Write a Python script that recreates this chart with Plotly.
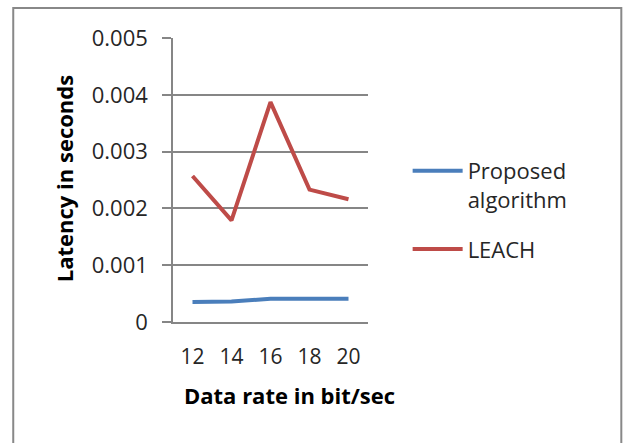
import plotly.graph_objects as go

categories = ["12", "14", "16", "18", "20"]
proposed = [0.00035, 0.00036, 0.00041, 0.00041, 0.00041]
leach = [0.00257, 0.00179, 0.00387, 0.00233, 0.00216]
ytick_vals = [0, 0.001, 0.002, 0.003, 0.004, 0.005]
ytick_text = ["0", "0.001", "0.002", "0.003", "0.004", "0.005"]

FONT = "Open Sans"
GRID = "#868686"

fig = go.Figure()
fig.add_trace(go.Scatter(x=categories, y=proposed, mode="lines", name="Proposed<br>algorithm",
                         line=dict(color="#4A7EBB", width=4), legendgroup="a"))
fig.add_trace(go.Scatter(x=categories, y=leach, mode="lines", name="LEACH",
                         line=dict(color="#BE4B48", width=4), legendgroup="b"))

PW = 195.3
PH = 284.0

fig.update_layout(
    width=625, height=443,
    margin=dict(l=173, r=257, t=38, b=121),
    paper_bgcolor="white", plot_bgcolor="white",
    font=dict(family=FONT, size=20, color="#262626"),
    showlegend=True,
    legend=dict(x=(408 - 173) / PW, y=(322 - 150) / PH, xanchor="left", yanchor="top", valign="top",
                itemwidth=50, tracegroupgap=18, font=dict(size=22, family=FONT, color="#262626"),
                bgcolor="rgba(0,0,0,0)"),
    xaxis=dict(type="category", range=[-0.5, 4.5], showgrid=False, showline=True,
               linecolor=GRID, linewidth=1.5, ticks="", ticklabelstandoff=15,
               tickfont=dict(size=21), zeroline=False),
    yaxis=dict(range=[0, 0.005], tickvals=ytick_vals, ticktext=ytick_text,
               showgrid=True, gridcolor=GRID, gridwidth=1.5, showline=True,
               linecolor=GRID, linewidth=1.5, ticks="outside", ticklen=9,
               tickcolor=GRID, tickwidth=1.5, ticklabelstandoff=10,
               tickfont=dict(size=22), zeroline=False),
    annotations=[
        dict(text="<b>Data rate in bit/sec</b>", xref="paper", yref="paper",
             x=(290 - 173) / PW, y=-(395 - 322) / PH, xanchor="center", yanchor="middle",
             showarrow=False, font=dict(size=22, family=FONT, color="#000000")),
        dict(text="<b>Latency in seconds</b>", xref="paper", yref="paper",
             x=-(173 - 64) / PW, y=(322 - 179) / PH, xanchor="center", yanchor="middle",
             textangle=-90, showarrow=False, font=dict(size=22, family=FONT, color="#000000")),
    ],
    shapes=[
        dict(type="rect", xref="paper", yref="paper",
             x0=-(173 - 13) / PW, x1=(622 - 173) / PW,
             y0=-(460 - 322) / PH, y1=(322 - 8) / PH,
             line=dict(color="#888888", width=2), layer="below"),
    ],
)

fig.write_html("out.html", config={"displayModeBar": False},
               post_script="document.body.style.margin='0px';")
